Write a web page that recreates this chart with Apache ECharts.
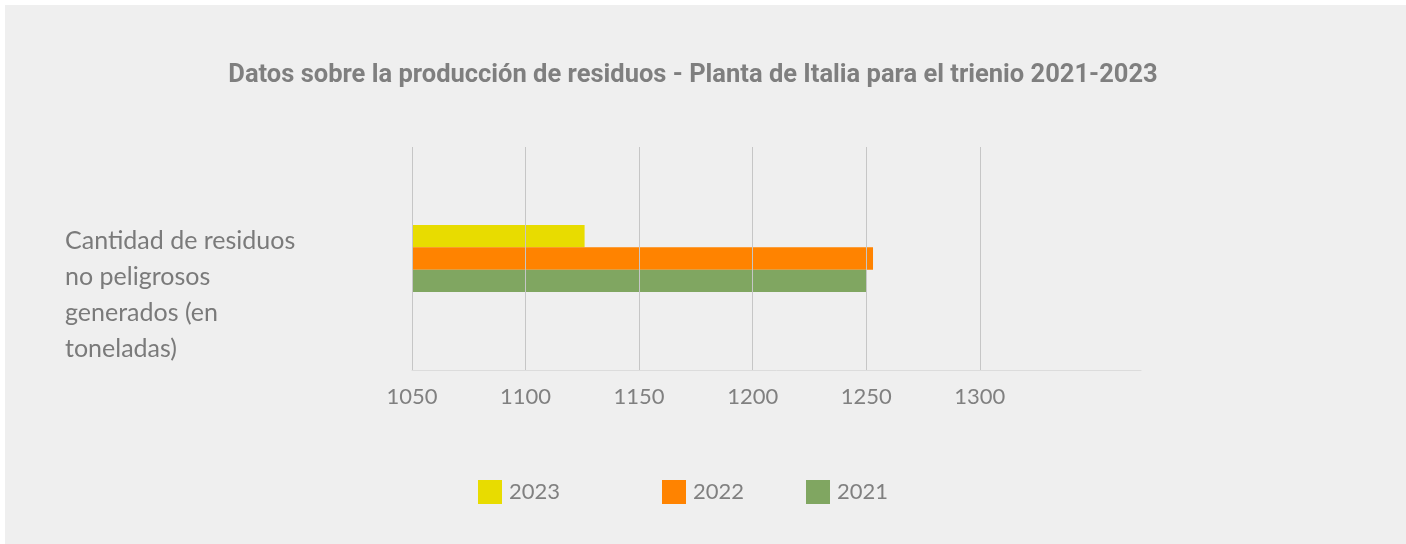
<!DOCTYPE html>
<html lang="es">
<head>
    <meta charset="UTF-8">
    <title>Producción de residuos - Planta de Italia</title>
    <style type="text/css">
        *{
            margin: 0;
            padding: 0;
        }
        body{
            background: #ffffff;
        }
        #main{
            position: absolute;
            left: 5px;
            top: 5px;
            width: 1401px;
            height: 539px;
            background: #efefef;
        }
    </style>
</head>
<body>
    <div id="main"></div>
    <script src="https://cdn.jsdelivr.net/npm/echarts@6/dist/echarts.min.js"></script>
    <script type="text/javascript">
        var chart = echarts.init(document.getElementById('main'));

        // datos
        var categories = ['Cantidad de residuos\nno peligrosos\ngenerados (en\ntoneladas)'];
        var years = ['2023', '2022', '2021'];
        var values2023 = [1126];
        var values2022 = [1253];
        var values2021 = [1250];
        var gridTicks = [1050, 1100, 1150, 1200, 1250, 1300];
        var colors = ['#e8dc00', '#ff8300', '#80a661'];

        var font = 'Lato, "Open Sans", sans-serif';

        // lineas verticales de la cuadricula (solo hasta 1300)
        var gridLines = {
            silent: true,
            symbol: 'none',
            label: {show: false},
            lineStyle: {color: '#c6c6c6', width: 1, type: 'solid'},
            data: gridTicks.map(function (v) { return {xAxis: v}; })
        };

        function legendAt(x, name) {
            return {
                left: x,
                top: 470,
                itemWidth: 24,
                itemHeight: 24,
                icon: 'rect',
                data: [name],
                textStyle: {color: '#808080', fontSize: 22, fontFamily: font, padding: [0, 0, 7, 2]}
            };
        }

        var option = {
            animation: false,
            color: colors,
            title: {
                text: 'Datos sobre la producción de residuos - Planta de Italia para el trienio 2021-2023',
                left: 683,
                textAlign: 'center',
                top: 53,
                textStyle: {color: '#7f7f7f', fontSize: 25.5, fontWeight: 'bold', fontFamily: 'Roboto, sans-serif'}
            },
            legend: [legendAt(468, '2023'), legendAt(652, '2022'), legendAt(796, '2021')],
            grid: {
                left: 407,
                right: 265,
                top: 142,
                bottom: 174
            },
            xAxis: {
                type: 'value',
                min: 1050,
                max: 1371,
                interval: 50,
                splitLine: {show: false},
                axisTick: {show: false},
                axisLine: {show: true, lineStyle: {color: '#dcdcdc', width: 1}},
                axisLabel: {
                    margin: 16,
                    color: '#808080',
                    fontSize: 22,
                    fontFamily: font,
                    showMaxLabel: false,
                    formatter: function (v) { return v > 1300 ? '' : String(v); }
                }
            },
            yAxis: {
                type: 'category',
                data: categories,
                axisLine: {show: false},
                axisTick: {show: false},
                axisLabel: {
                    margin: 347,
                    align: 'left',
                    verticalAlign: 'middle',
                    lineHeight: 36,
                    color: '#7a7a7a',
                    fontSize: 25,
                    fontFamily: font,
                    // el texto queda algo por debajo del centro de la banda
                    formatter: function (v) { return '\n\n' + v; }
                }
            },
            series: [
                {name: years[0], type: 'bar', data: values2023, barGap: 0, barCategoryGap: '70%', markLine: gridLines},
                {name: years[1], type: 'bar', data: values2022, barGap: 0, barCategoryGap: '70%'},
                {name: years[2], type: 'bar', data: values2021, barGap: 0, barCategoryGap: '70%'}
            ]
        };

        chart.setOption(option);
    </script>
</body>
</html>
